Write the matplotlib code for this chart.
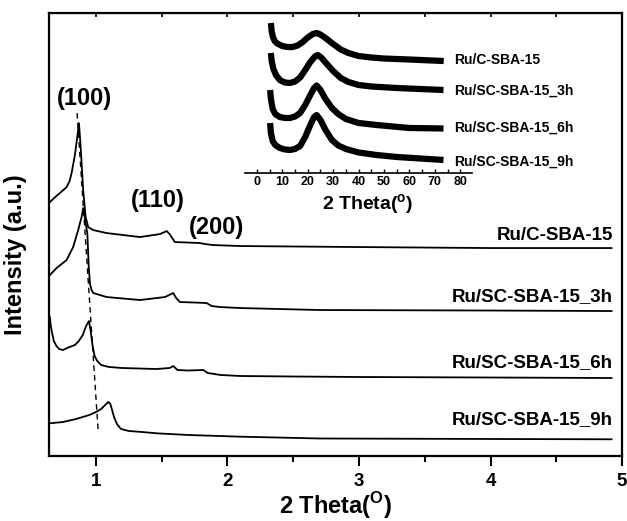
import matplotlib
matplotlib.use("Agg")
import matplotlib.pyplot as plt
from matplotlib.ticker import MultipleLocator

plt.rcParams['font.family'] = ['Liberation Sans', 'DejaVu Sans']
plt.rcParams['font.weight'] = 'bold'
plt.rcParams['mathtext.fontset'] = 'custom'
plt.rcParams['mathtext.rm'] = 'Liberation Sans:bold'
plt.rcParams['mathtext.bf'] = 'Liberation Sans:bold'

# ---- main pattern (low angle), intensity in arbitrary units ----
x_c = [0.65, 0.69, 0.726, 0.777, 0.80, 0.815, 0.84, 0.858, 0.871, 0.884, 0.903, 0.922,
       0.941, 0.979, 1.081, 1.335, 1.487, 1.538, 1.56, 1.60, 1.70, 1.79, 1.83, 1.89,
       2.10, 3.0, 4.0, 4.92]
y_c = [254, 259, 263, 269, 275, 283, 301, 319, 333, 309, 266, 239,
       229, 226, 223, 219, 222, 225, 222, 214, 213.5, 213, 212, 211,
       210, 209, 208, 208]

x_3h = [0.65, 0.701, 0.777, 0.827, 0.865, 0.891, 0.903, 0.922, 0.935, 0.945, 0.955, 0.967,
        0.98, 1.081, 1.335, 1.525, 1.588, 1.61, 1.639, 1.75, 1.842, 1.88, 1.943, 2.095,
        2.7, 4.0, 4.92]
y_3h = [181, 188, 196, 209, 226, 239, 248, 233, 222, 190, 172, 166,
        163, 159, 156, 159, 163, 158, 154, 153.5, 153, 150, 149, 148,
        146, 145.5, 145]

x_6h = [0.65, 0.655, 0.665, 0.68, 0.70, 0.72, 0.75, 0.78, 0.80, 0.84, 0.87, 0.90,
        0.925, 0.947, 0.96, 0.975, 0.99, 1.01, 1.04, 1.10, 1.20, 1.46, 1.56, 1.588,
        1.62, 1.70, 1.816, 1.85, 1.95, 2.10, 2.5, 3.0, 4.0, 4.92]
y_6h = [139, 132, 124, 115, 110, 107, 106, 108, 109, 111, 115, 121,
        130, 135, 125, 110, 100, 95, 91, 89, 88, 87, 88, 90,
        86, 85.5, 86, 83, 81, 80, 79.5, 79, 78.5, 78]

x_9h = [0.65, 0.75, 0.85, 0.95, 1.0, 1.04, 1.07, 1.094, 1.11, 1.125, 1.14, 1.16,
        1.19, 1.25, 1.35, 1.46, 1.70, 2.10, 2.7, 4.0, 4.92]
y_9h = [32.7, 34, 37, 41, 44, 47, 51, 54, 52, 45, 38, 32,
        27, 25, 24, 22.7, 21, 19.3, 17.5, 17, 16.7]

main_labels = ['Ru/C-SBA-15', 'Ru/SC-SBA-15_3h', 'Ru/SC-SBA-15_6h', 'Ru/SC-SBA-15_9h']
main_label_y = [221, 159, 93, 36]

peak_names = ['(100)', '(110)', '(200)']
peak_x = [0.916, 1.471, 1.92]
peak_y = [358, 256, 229]

shift_x = [0.857, 1.018]
shift_y = [343, 23]

# ---- inset (wide angle) ----
ix_c = [5.5, 5.8, 6.3, 7, 8, 10, 12, 14, 16, 18, 20, 22, 23.5, 25, 27, 30, 33, 36, 40,
        45, 50, 60, 73.5]
iy_c = [150, 142, 136, 132, 129.5, 127, 126, 126, 127.5, 131, 135.5, 139, 140, 138.5, 135,
        129, 123.5, 120, 117, 115.5, 114.5, 113.5, 112]
ix_3h = [5.5, 5.8, 6.5, 7.5, 9, 11, 13, 15, 17, 19, 21, 23, 24, 25.5, 27.5, 30, 33, 36, 40,
         45, 55, 73.4]
iy_3h = [120, 112, 104, 98, 93, 90.5, 90, 91.5, 95.5, 103, 111, 117, 118, 115, 109, 102,
         95, 91, 88, 86.5, 85, 83]
ix_6h = [5.2, 5.5, 6.2, 7.2, 9, 11, 13, 15, 17, 19, 21, 22.5, 23.5, 25, 27, 29.5, 32, 35,
         40, 47, 60, 73.4]
iy_6h = [83, 74, 64, 59, 56, 55, 55, 56.5, 60, 68, 78, 85, 87.5, 83, 74, 65, 59, 54,
         50, 48, 45, 44.5]
ix_9h = [5.2, 5.5, 6.2, 7.2, 9, 11, 13, 15, 17, 19, 21, 22.5, 23.5, 25, 27, 29.5, 32, 35,
         40, 47, 55, 73.4]
iy_9h = [50, 40, 32, 28, 25, 23.5, 23, 24, 27, 36, 48, 56, 58, 53, 43, 33, 27.5, 24,
         20.5, 18, 16, 13]
inset_label_y = [113, 82, 45, 11]

fig = plt.figure(figsize=(6.27, 5.21), dpi=100)
ax = fig.add_axes([0.0781, 0.1248, 0.914, 0.850])

for xs, ys in [(x_c, y_c), (x_3h, y_3h), (x_6h, y_6h), (x_9h, y_9h)]:
    ax.plot(xs, ys, color='black', lw=1.3)
ax.plot(shift_x, shift_y, color='black', lw=1.0, ls=(0, (4, 3)))

for name, yy in zip(main_labels, main_label_y):
    ax.text(4.93, yy, name, ha='right', va='center', fontsize=13.5, fontweight='bold')
for name, xx, yy in zip(peak_names, peak_x, peak_y):
    ax.text(xx, yy, name, ha='center', va='center', fontsize=17, fontweight='bold')

ax.set_xlim(0.643, 5.0)
ax.set_ylim(0, 443)
ax.xaxis.set_major_locator(MultipleLocator(1))
ax.xaxis.set_minor_locator(MultipleLocator(0.5))
ax.set_yticks([])
ax.tick_params(axis='x', which='major', direction='out', length=7, width=1.5,
               labelsize=13.5, pad=5, top=False)
ax.tick_params(axis='x', which='minor', direction='out', length=4, width=1.5, top=False)
for s in ax.spines.values():
    s.set_linewidth(1.6)
ax.set_xlabel(r'2 Theta($^\mathbf{O}$)', fontsize=17, fontweight='bold', labelpad=0)
ax.set_ylabel('Intensity (a.u.)', fontsize=17, fontweight='bold')
ax.yaxis.set_label_coords(-0.038, 0.455)

# top ticks (inward)
top = ax.secondary_xaxis('top')
top.xaxis.set_major_locator(MultipleLocator(0.5))
top.tick_params(axis='x', direction='in', length=3, width=1.2, labeltop=False)

# inset
ins = fig.add_axes([0.3907, 0.668, 0.362, 0.307])
for xs, ys in [(ix_c, iy_c), (ix_3h, iy_3h), (ix_6h, iy_6h), (ix_9h, iy_9h)]:
    ins.plot(xs, ys, color='black', lw=4.5, solid_capstyle='butt', solid_joinstyle='round')
for name, yy in zip(main_labels, inset_label_y):
    ins.text(77.5, yy, name, ha='left', va='center', fontsize=10, fontweight='bold')
ins.set_xlim(-4.7, 84.6)
ins.set_ylim(0, 160)
ins.patch.set_alpha(0)
for k in ['top', 'left', 'right']:
    ins.spines[k].set_visible(False)
ins.spines['bottom'].set_linewidth(1.2)
ins.set_yticks([])
ins.xaxis.set_major_locator(MultipleLocator(10))
ins.xaxis.set_minor_locator(MultipleLocator(5))
ins.tick_params(axis='x', which='both', direction='in', length=3, width=1, labelsize=9, pad=2)
ins.set_xlabel(r'2 Theta($^\mathbf{o}$)', fontsize=14, fontweight='bold', labelpad=5)
ins.xaxis.set_label_coords(0.54, -0.12)

fig.savefig('out.png', dpi=100)
